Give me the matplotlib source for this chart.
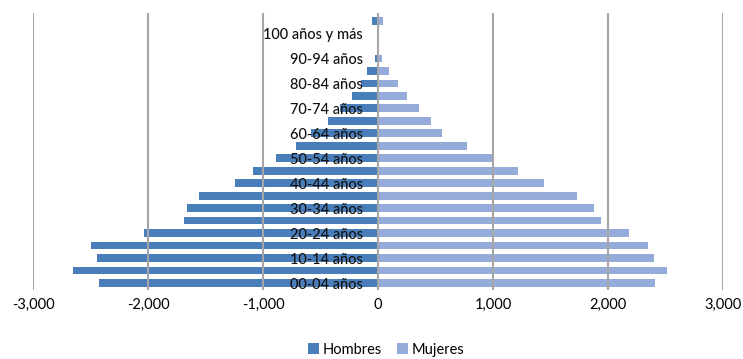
import matplotlib.pyplot as plt
from matplotlib.ticker import FuncFormatter

# grupos de edad (abajo -> arriba); la ultima fila no lleva etiqueta en el original
edades = ["00-04 años", "05-09 años", "10-14 años", "15-19 años", "20-24 años",
          "25-29 años", "30-34 años", "35-39 años", "40-44 años", "45-49 años",
          "50-54 años", "55-59 años", "60-64 años", "65-69 años", "70-74 años",
          "75-79 años", "80-84 años", "85-89 años", "90-94 años", "95-99 años",
          "100 años y más", "No especificado"]
hombres = [2430, 2650, 2446, 2498, 2035, 1690, 1664, 1557, 1241, 1090, 887,
           716, 580, 437, 330, 229, 145, 92, 26, 12, 3, 55]
mujeres = [2409, 2510, 2397, 2350, 2186, 1939, 1876, 1733, 1443, 1215, 1003,
           771, 559, 464, 357, 249, 177, 98, 37, 8, 3, 45]
xticks = [-3000, -2000, -1000, 0, 1000, 2000, 3000]

plt.rcParams['font.family'] = ['Lato', 'DejaVu Sans']

fig = plt.figure(figsize=(7.43, 3.59), dpi=100)
ax = fig.add_axes([0.0444, 0.1922, 0.9287, 0.7716])

pos = list(range(len(edades)))
ax.barh(pos, [-v for v in hombres], height=0.62, color='#4A7EBB', label='Hombres')
ax.barh(pos, mujeres, height=0.62, color='#95ABD9', label='Mujeres')

ax.set_xlim(-3000, 3000)
ax.set_ylim(-0.56, 21.64)
ax.set_xticks(xticks)
ax.xaxis.set_major_formatter(FuncFormatter(lambda v, p: f"{int(v):,}"))
ax.grid(axis='x', color='#A6A6A6', linewidth=1.5)

# etiquetas de edad junto al eje en cero, una de cada dos
ax.spines['left'].set_position(('data', 0))
for s in ax.spines.values():
    s.set_visible(False)
ax.set_yticks(pos[::2])
ax.set_yticklabels(edades[::2], fontsize=10.5, color='#111111', fontweight='medium')
ax.tick_params(axis='y', length=0, pad=11)
ax.tick_params(axis='x', length=0, pad=6, labelsize=10.5)

fig.legend(loc='center', bbox_to_anchor=(0.52, 0.026), ncol=2, frameon=False,
           fontsize=10.5, handlelength=0.75, handleheight=0.75,
           handletextpad=0.25, columnspacing=1.0)

fig.savefig('out.png', dpi=100)
